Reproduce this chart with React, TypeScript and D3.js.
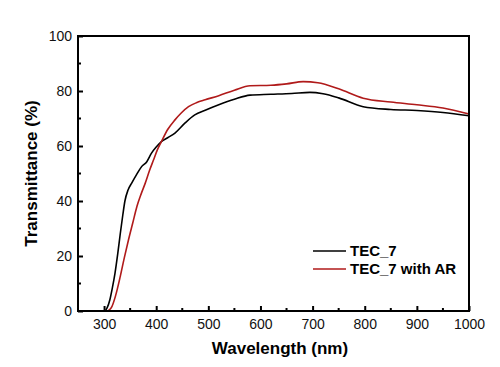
import React, { useEffect, useRef } from "react"
import * as d3 from "d3"

// TEC_7 (black)
const tecWl = [250, 295, 302, 306, 311, 316, 321, 326, 331, 336, 340, 346, 353, 362, 372, 382, 391, 400, 410, 422, 436, 455, 474, 494, 520, 550, 580, 620, 660, 695, 720, 750, 797, 850, 900, 950, 1000]
const tecT = [0, 0, 0.1, 1.2, 4, 8.5, 13.8, 20.5, 28, 35, 40, 44, 46.5, 49.5, 52.5, 54.3, 57.4, 59.6, 61.6, 63, 64.7, 68.3, 71.3, 73, 75, 77, 78.5, 78.8, 79.1, 79.5, 79, 77.5, 74.3, 73.3, 72.9, 72.2, 71]

// TEC_7 with AR (red)
const arWl = [250, 306, 310, 315, 322, 331, 339, 347, 355, 363, 371, 379, 387, 395, 402, 410, 422, 436, 448, 462, 478, 494, 520, 550, 580, 620, 650, 682, 710, 750, 797, 850, 900, 950, 1000]
const arT = [0, 0, 0.4, 1.6, 5.5, 12.5, 19.5, 26, 32, 38, 42.5, 46.5, 51, 55, 58.5, 61.6, 66, 69.5, 72, 74.3, 75.8, 76.8, 78.3, 80.3, 81.9, 82.1, 82.6, 83.4, 83, 80.8, 77.4, 76, 75, 73.8, 71.6]

const xTicks = [300, 400, 500, 600, 700, 800, 900, 1000]
const xMinor = [350, 450, 550, 650, 750, 850, 950]
const yTicks = [0, 20, 40, 60, 80, 100]
const yMinor = [10, 30, 50, 70, 90]

const seriesNames = ["TEC_7", "TEC_7 with AR"]
const seriesColors = ["#000000", "#b01a1a"]

export default function App() {
  const ref = useRef<SVGSVGElement>(null)

  useEffect(() => {
    if (!ref.current) return
    const svg = d3.select(ref.current)
    svg.selectAll("*").remove()

    const x = d3.scaleLinear().domain([250, 1000]).range([78, 469])
    const y = d3.scaleLinear().domain([0, 100]).range([311, 36])
    const font = "Liberation Sans, Arial, sans-serif"

    // curves
    const line = d3
      .line<[number, number]>()
      .x((d) => x(d[0]))
      .y((d) => y(d[1]))
      .curve(d3.curveMonotoneX)

    const series = [
      tecWl.map((w, i) => [w, tecT[i]] as [number, number]),
      arWl.map((w, i) => [w, arT[i]] as [number, number]),
    ]
    series.forEach((s, i) => {
      svg
        .append("path")
        .datum(s)
        .attr("fill", "none")
        .attr("stroke", seriesColors[i])
        .attr("stroke-width", 1.6)
        .attr("d", line)
    })

    // frame
    svg
      .append("rect")
      .attr("x", x(250))
      .attr("y", y(100))
      .attr("width", x(1000) - x(250))
      .attr("height", y(0) - y(100))
      .attr("fill", "none")
      .attr("stroke", "#000")
      .attr("stroke-width", 2)

    // x axis
    const xAxis = svg.append("g").attr("transform", `translate(0,${y(0)})`)
    xAxis
      .call(
        d3.axisBottom(x).tickValues(xTicks).tickFormat(d3.format("d")).tickSizeInner(-5).tickSizeOuter(0).tickPadding(8)
      )
      .call((g) => g.select(".domain").remove())
    xAxis.selectAll(".tick line").attr("stroke-width", 2)
    xAxis.selectAll(".tick text").attr("font-size", 14).attr("font-family", font).attr("fill", "#111")
    xMinor.forEach((v) => {
      xAxis.append("line").attr("x1", x(v)).attr("x2", x(v)).attr("y1", 0).attr("y2", -3).attr("stroke", "#000").attr("stroke-width", 2)
    })

    // y axis
    const yAxis = svg.append("g").attr("transform", `translate(${x(250)},0)`)
    yAxis
      .call(d3.axisLeft(y).tickValues(yTicks).tickSizeInner(-5).tickSizeOuter(0).tickPadding(6))
      .call((g) => g.select(".domain").remove())
    yAxis.selectAll(".tick line").attr("stroke-width", 2)
    yAxis.selectAll(".tick text").attr("font-size", 14).attr("font-family", font).attr("fill", "#111")
    yMinor.forEach((v) => {
      yAxis.append("line").attr("x1", 0).attr("x2", 3).attr("y1", y(v)).attr("y2", y(v)).attr("stroke", "#000").attr("stroke-width", 2)
    })

    // titles
    svg
      .append("text")
      .attr("x", 280)
      .attr("y", 354)
      .attr("text-anchor", "middle")
      .attr("font-family", font)
      .attr("font-weight", "bold")
      .attr("font-size", 17)
      .text("Wavelength (nm)")
    svg
      .append("text")
      .attr("transform", `translate(37,${(y(0) + y(100)) / 2}) rotate(-90)`)
      .attr("text-anchor", "middle")
      .attr("font-family", font)
      .attr("font-weight", "bold")
      .attr("font-size", 17)
      .text("Transmittance (%)")

    // legend
    const leg = svg.append("g").attr("transform", "translate(313,251)")
    seriesNames.forEach((name, i) => {
      leg.append("line").attr("x1", 0).attr("x2", 33).attr("y1", i * 18).attr("y2", i * 18).attr("stroke", seriesColors[i]).attr("stroke-width", 1.6)
      leg
        .append("text")
        .attr("x", 37)
        .attr("y", i * 18 + 5)
        .attr("font-family", font)
        .attr("font-weight", "bold")
        .attr("font-size", 15)
        .text(name)
    })
  }, [])

  return (
    <svg
      ref={ref}
      width={500}
      height={367}
      style={{ position: "absolute", left: 0, top: 0, background: "#fff" }}
    />
  )
}
